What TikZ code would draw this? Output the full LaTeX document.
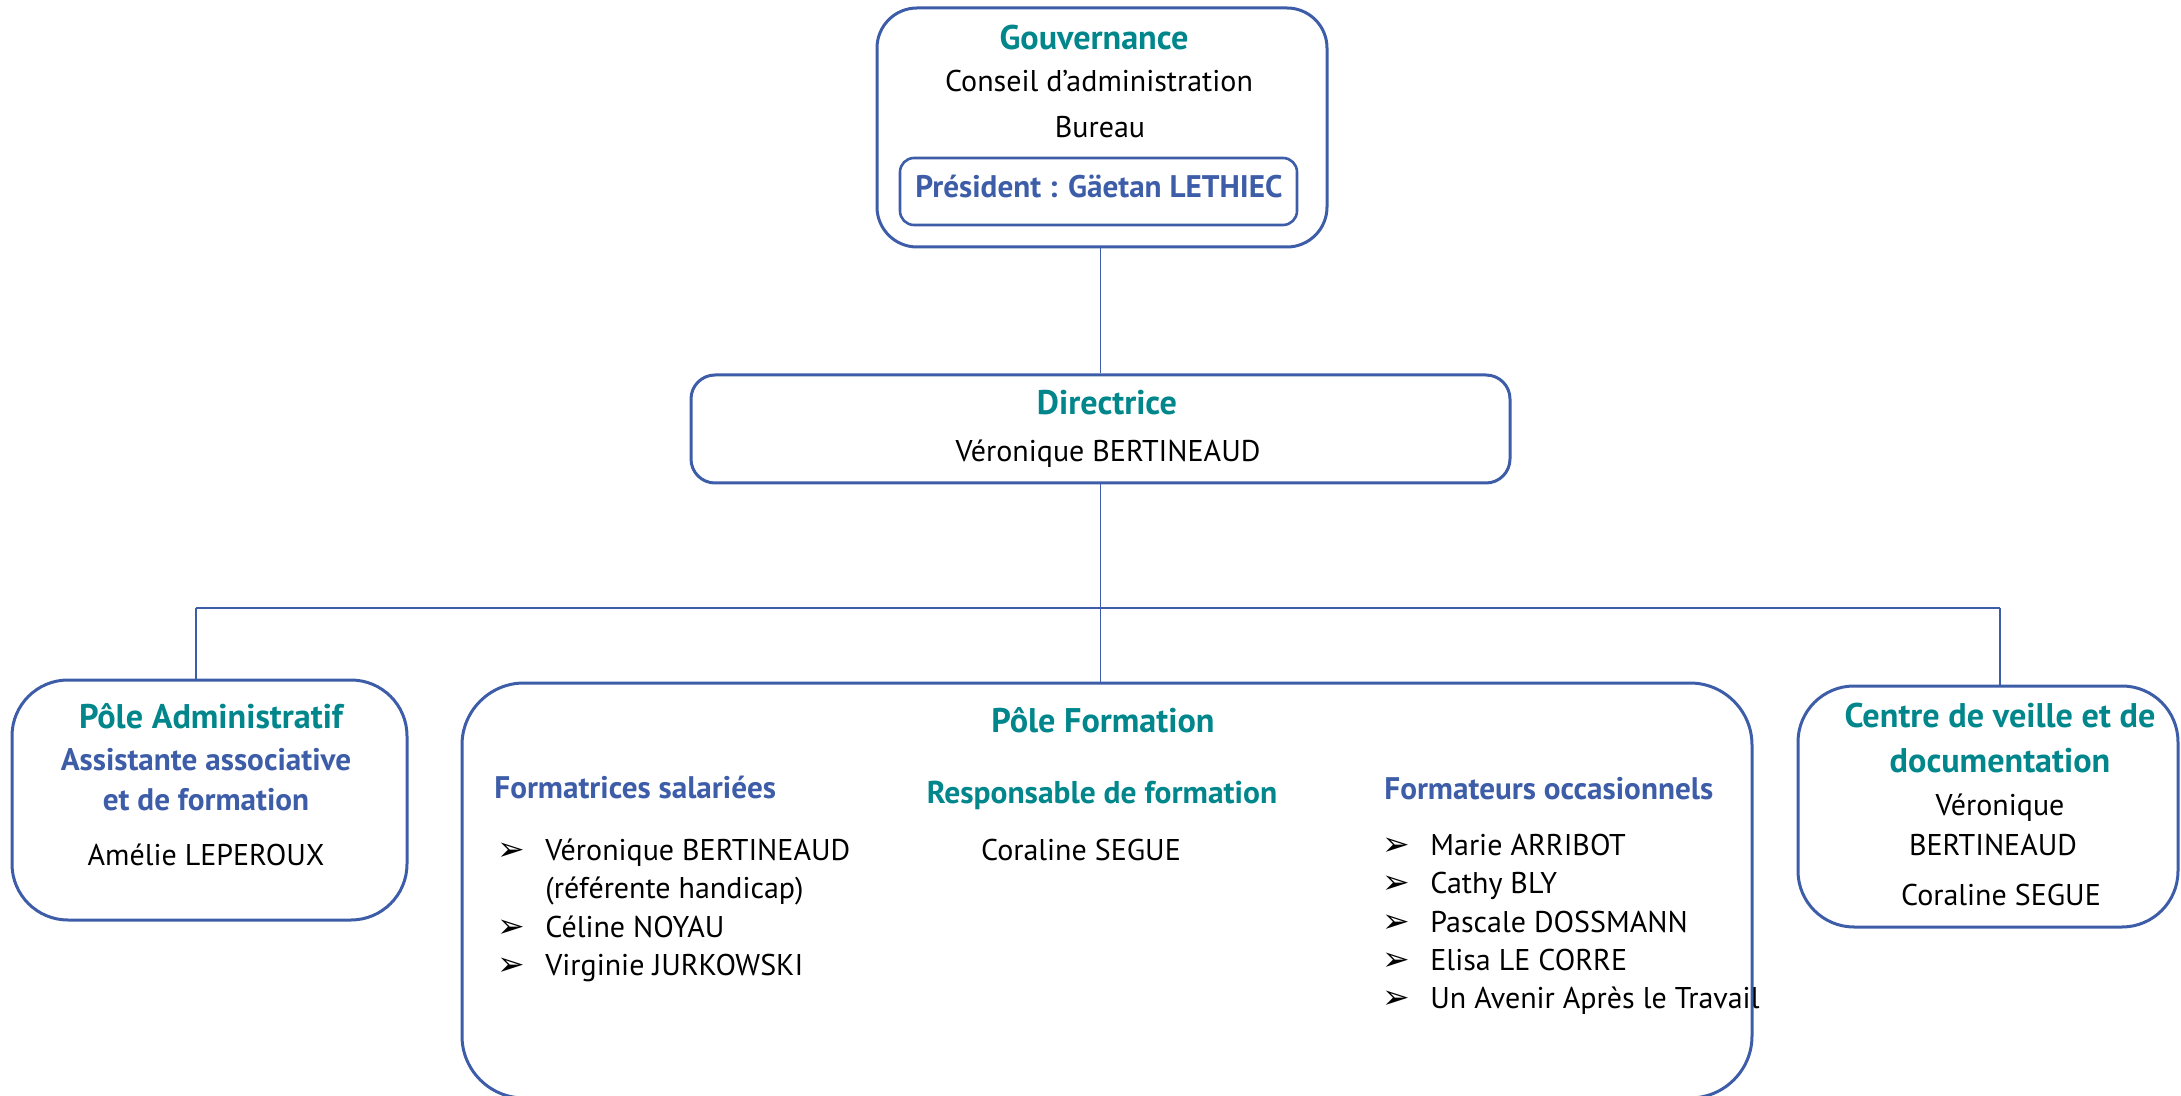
\documentclass[tikz,border=0pt]{standalone}
\usepackage{fontspec}
\setmainfont{PT Sans}[Scale=1.5]
\newfontfamily\arrowfont{DejaVu Sans}[Scale=1.65]
\usetikzlibrary{positioning}
\definecolor{orgteal}{RGB}{0,134,139}
\definecolor{orgblue}{RGB}{61,93,168}
\tikzset{box/.style = {draw = orgblue, line width = 1.5pt, rounded corners = 28pt, inner sep = 0}}
\tikzset{innerbox/.style = {draw = orgblue, line width = 1.3pt, rounded corners = 7pt, inner sep = 0}}
\tikzset{link/.style = {draw = orgblue, line width = 0.7pt}}
\tikzset{head/.style = {text = orgteal, font = \fontsize{11.4}{14}\selectfont\bfseries, anchor = base, inner sep = 0}}
\tikzset{subhead/.style = {text = orgteal, font = \fontsize{10.5}{13}\selectfont\bfseries, anchor = base, inner sep = 0}}
\tikzset{sub/.style = {text = orgblue, font = \fontsize{10.4}{13}\selectfont\bfseries, anchor = base, inner sep = 0}}
\tikzset{person/.style = {text = black, anchor = base, inner sep = 0}}
\tikzset{listitem/.style = {text = black, anchor = base west, inner sep = 0}}
\newcommand{\bul}{\makebox[24pt][l]{\arrowfont ➢}}

\begin{document}
\begin{tikzpicture}[x = 0.5pt, y = -0.5pt]
  \useasboundingbox (0, 0) rectangle (2181, 1096);

  % gouvernance
  \node [box, rounded corners = 20pt, minimum width = 225pt, minimum height = 119.5pt] (gouv) at (1102, 127.5) {};
  \node [innerbox, minimum width = 198.5pt, minimum height = 33.5pt] (pres) at (1098.5, 191.5) {};
  \node [head] (gouvtitle) at (1094, 50) {Gouvernance};
  \node [person] (conseil) at (1099, 92) {Conseil d’administration};
  \node [person] (bureau) at (1100, 138) {Bureau};
  \node [sub] (prestext) at (1099, 198) {Président : Gäetan LETHIEC};

  % directrice
  \node [box, rounded corners = 12pt, minimum width = 409.5pt, minimum height = 54pt] (dir) at (1100.5, 429) {};
  \node [head] (dirtitle) at (1107, 415) {Directrice};
  \node [person] (dirname) at (1108, 462) {Véronique BERTINEAUD};

  % les poles
  \node [box, minimum width = 197.5pt, minimum height = 120pt] (adm) at (209.5, 800) {};
  \node [box, rounded corners = 31pt, minimum width = 645pt, minimum height = 207.5pt] (form) at (1107, 890.5) {};
  \node [box, minimum width = 190pt, minimum height = 120.5pt] (centre) at (1988, 806.5) {};

  % connecteurs
  \coordinate (busleft) at (196, 608);
  \coordinate (busright) at (2000, 608);
  \draw [link] (dir.north) -- (dir.north |- gouv.south);
  \draw [link] (dir.south) -- (dir.south |- busleft);
  \draw [link] (busleft) -- (busright);
  \draw [link] (busleft) -- (busleft |- adm.north);
  \draw [link] (dir.south |- busleft) -- (dir.south |- form.north);
  \draw [link] (busright) -- (busright |- centre.north);

  % pole administratif
  \node [head] (admtitle) at (211, 728) {Pôle Administratif};
  \node [sub] (admrole1) at (206, 770) {Assistante associative};
  \node [sub] (admrole2) at (206, 810) {et de formation};
  \node [person] (admname) at (206, 865) {Amélie LEPEROUX};

  % pole formation
  \node [head] (formtitle) at (1103, 733) {Pôle Formation};
  \node [sub, anchor = base west] (salariees) at (494, 798) {Formatrices salariées};
  \node [listitem] (sal1) at (497, 860) {\bul Véronique BERTINEAUD};
  \node [listitem] (sal1b) at (545, 898) {(référente handicap)};
  \node [listitem] (sal2) at (497, 937) {\bul Céline NOYAU};
  \node [listitem] (sal3) at (497, 975) {\bul Virginie JURKOWSKI};
  \node [subhead] (resp) at (1102, 803) {Responsable de formation};
  \node [person] (respname) at (1081, 860) {Coraline SEGUE};
  \node [sub, anchor = base west] (occas) at (1384, 799) {Formateurs occasionnels};
  \node [listitem] (occ1) at (1382, 855) {\bul Marie ARRIBOT};
  \node [listitem] (occ2) at (1382, 893) {\bul Cathy BLY};
  \node [listitem] (occ3) at (1382, 932) {\bul Pascale DOSSMANN};
  \node [listitem] (occ4) at (1382, 970) {\bul Elisa LE CORRE};
  \node [listitem] (occ5) at (1382, 1008) {\bul Un Avenir Après le Travail};

  % centre de veille
  \node [head] (centretitle1) at (2000, 727) {Centre de veille et de};
  \node [head] (centretitle2) at (2000, 772) {documentation};
  \node [person] (centrename1) at (2000, 815) {Véronique};
  \node [person] (centrename2) at (1993, 855) {BERTINEAUD};
  \node [person] (centrename3) at (2001, 905) {Coraline SEGUE};
\end{tikzpicture}
\end{document}
